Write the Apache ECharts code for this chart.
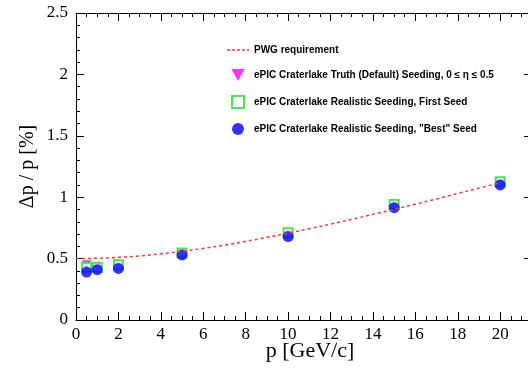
<!DOCTYPE html>
<html>
<head>
<meta charset="utf-8">
<script src="https://cdn.jsdelivr.net/npm/echarts@6/dist/echarts.min.js"></script>
<style>
  html, body { margin: 0; padding: 0; background: #fff; }
  #main { width: 528px; height: 370px; }
</style>
</head>
<body>
<div id="main"></div>
<script>
// momentum points (GeV/c)
var momenta = [0.5, 1, 2, 5, 10, 15, 20];
// resolution dp/p in %
var truthSeed = [0.45, 0.43, 0.44, 0.54, 0.70, 0.93, 1.11];
var firstSeed = [0.43, 0.43, 0.45, 0.545, 0.71, 0.94, 1.125];
var bestSeed = [0.39, 0.41, 0.42, 0.53, 0.68, 0.915, 1.10];
// PWG requirement curve
var pwgP = [0, 1, 2, 3, 4, 5, 6, 7, 8, 9, 10, 11, 12, 13, 14, 15, 16, 17, 18, 19, 20];
var pwgRes = [0.5, 0.503, 0.51, 0.522, 0.539, 0.559, 0.583, 0.61, 0.64, 0.673, 0.707,
              0.743, 0.781, 0.82, 0.86, 0.901, 0.943, 0.986, 1.03, 1.074, 1.118];

var names = [
  'PWG requirement',
  'ePIC Craterlake Truth (Default) Seeding, 0 ≤ η ≤ 0.5',
  'ePIC Craterlake Realistic Seeding, First Seed',
  'ePIC Craterlake Realistic Seeding, "Best" Seed'
];

function pairs(xs, ys) {
  return xs.map(function (x, i) { return [x, ys[i]]; });
}

var serif = '"Liberation Serif", "DejaVu Serif", serif';

function axisCommon(showLabels) {
  return {
    axisLine: { show: true, onZero: false, lineStyle: { color: '#000', width: 1 } },
    axisTick: { show: true, inside: true, length: 8, lineStyle: { color: '#000', width: 1 } },
    minorTick: { show: true, length: 4, lineStyle: { color: '#000', width: 1 } },
    splitLine: { show: false },
    axisLabel: { show: showLabels, color: '#000', fontFamily: serif, fontSize: 17 }
  };
}

var myEchart = echarts.init(document.getElementById('main'));

var xBottom = Object.assign(axisCommon(true), {
  type: 'value', position: 'bottom', min: 0, max: 21.5, interval: 2,
  name: 'p [GeV/c]', nameLocation: 'middle', nameGap: 20, nameMoveOverlap: false,
  nameTextStyle: { color: '#000', fontFamily: serif, fontSize: 22, padding: [0, 0, 0, 12] }
});
xBottom.minorTick.splitNumber = 4;
xBottom.axisLabel.margin = 6;
xBottom.axisLabel.showMaxLabel = false;

var xTop = Object.assign(axisCommon(false), {
  type: 'value', position: 'top', min: 0, max: 21.5, interval: 2
});
xTop.minorTick.splitNumber = 4;

var yLeft = Object.assign(axisCommon(true), {
  type: 'value', position: 'left', min: 0, max: 2.5, interval: 0.5,
  name: 'Δp / p [%]', nameLocation: 'middle', nameGap: 38, nameRotate: 90, nameMoveOverlap: false,
  nameTextStyle: { color: '#000', fontFamily: serif, fontSize: 20 }
});
yLeft.minorTick.splitNumber = 5;
yLeft.axisLabel.margin = 8;
yLeft.axisLabel.formatter = function (v) { return String(v); };

var yRight = Object.assign(axisCommon(false), {
  type: 'value', position: 'right', min: 0, max: 2.5, interval: 0.5
});
yRight.minorTick.splitNumber = 5;

var option = {
  backgroundColor: '#fff',
  animation: false,
  grid: { left: 76, top: 13, width: 456, height: 307, outerBoundsMode: 'none' },
  xAxis: [xBottom, xTop],
  yAxis: [yLeft, yRight],
  legend: {
    orient: 'vertical',
    left: 222,
    top: 40,
    itemGap: 14,
    itemWidth: 22,
    itemHeight: 12,
    textStyle: { color: '#000', fontFamily: '"Liberation Sans", Arial, sans-serif', fontSize: 10, fontWeight: 'bold' },
    data: [
      { name: names[0], icon: 'path://M0,0h3v1.5h-3zM5,0h3v1.5h-3zM10,0h3v1.5h-3zM15,0h3v1.5h-3zM20,0h2v1.5h-2z' },
      { name: names[1], icon: 'path://M0,0L10,0L5,9Z' },
      { name: names[2], icon: 'path://M0,0h10v10h-10z' },
      { name: names[3], icon: 'circle' }
    ]
  },
  series: [
    {
      name: names[0],
      type: 'line',
      smooth: true,
      showSymbol: false,
      symbol: 'none',
      data: pairs(pwgP, pwgRes),
      itemStyle: { color: '#f03a3a' },
      lineStyle: { color: '#f03a3a', width: 1.5, type: [3, 3] },
      z: 5
    },
    {
      name: names[1],
      type: 'scatter',
      symbol: 'triangle',
      symbolRotate: 180,
      symbolSize: 9,
      data: pairs(momenta, truthSeed),
      itemStyle: { color: '#ff00ff' },
      z: 2
    },
    {
      name: names[2],
      type: 'scatter',
      symbol: 'rect',
      symbolSize: 9,
      data: pairs(momenta, firstSeed),
      itemStyle: { color: '#fff', borderColor: '#22dd22', borderWidth: 2 },
      z: 3
    },
    {
      name: names[3],
      type: 'scatter',
      symbol: 'circle',
      symbolSize: 11,
      data: pairs(momenta, bestSeed),
      itemStyle: { color: '#0000ff' },
      z: 4
    }
  ]
};

myEchart.setOption(option);
</script>
</body>
</html>
